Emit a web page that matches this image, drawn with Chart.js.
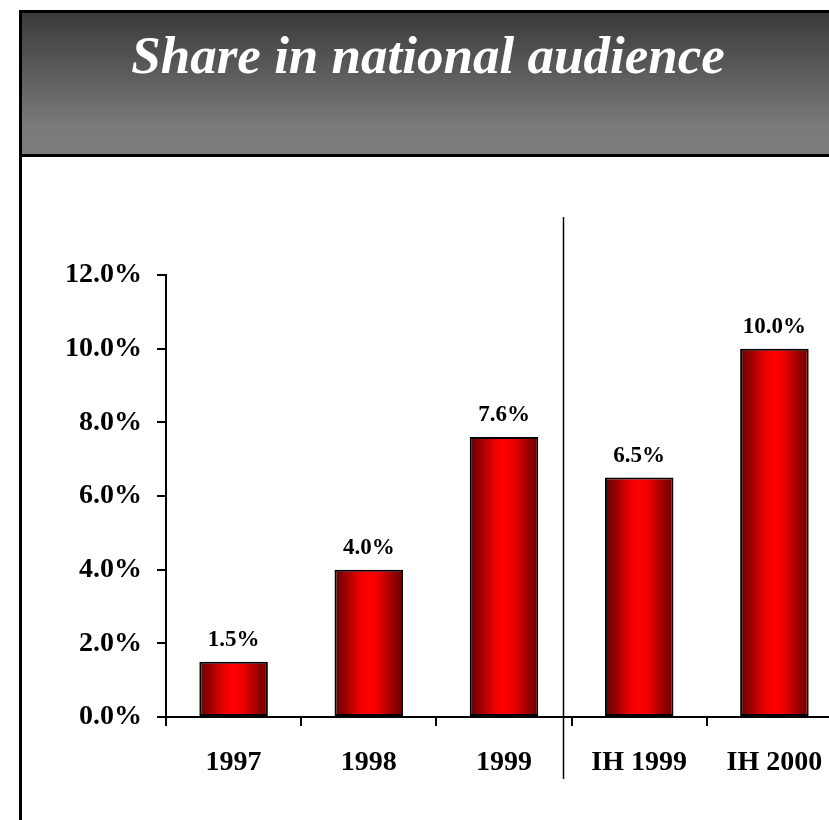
<!DOCTYPE html>
<html>
<head>
<meta charset="utf-8">
<script src="https://cdn.jsdelivr.net/npm/chart.js@4/dist/chart.umd.min.js"></script>
<style>
  html, body { margin: 0; padding: 0; width: 829px; height: 820px; overflow: hidden; background: #fff; }
  #frameTop { position: absolute; left: 19px; top: 10px; width: 830px; height: 141px;
    border-top: 3px solid #000; border-bottom: 3px solid #000;
    background: linear-gradient(#3b3b3b 0%, #5a5a5a 40%, #7a7a7a 80%, #7b7b7b 100%); }
  #frameLeft { position: absolute; left: 19px; top: 10px; width: 3px; height: 820px; background: #000; }
  #title { position: absolute; left: 0; top: 29px; width: 856px; text-align: center;
    font: italic bold 53px "Liberation Serif", "Times New Roman", serif; line-height: 53px; color: #fff; }
  #chart { position: absolute; left: 0; top: 0; }
</style>
</head>
<body>
<div id="frameTop"></div>
<div id="frameLeft"></div>
<div id="title">Share in national audience</div>
<canvas id="chart" width="860" height="820"></canvas>
<script>
// Audience share by period
const categories = ['1997', '1998', '1999', 'IH 1999', 'IH 2000'];
const shareValues = [1.5, 4.0, 7.6, 6.5, 10.0];
const yTickValues = [0, 2, 4, 6, 8, 10, 12];
// separator between full years and half-year figures (category units)
const dividerAt = 2.44;

const serif = '"Liberation Serif", "Times New Roman", serif';

function barGradient(ctx) {
  const chart = ctx.chart;
  const xs = chart.scales.x;
  if (!chart.chartArea || !xs) return '#e00000';
  const cx = xs.getPixelForValue(ctx.dataIndex);
  const half = xs.width / categories.length * 0.507 / 2;
  const g = chart.ctx.createLinearGradient(cx - half, 0, cx + half, 0);
  g.addColorStop(0, '#6a0000');
  g.addColorStop(0.12, '#8e0000');
  g.addColorStop(0.35, '#e80000');
  g.addColorStop(0.48, '#ff0000');
  g.addColorStop(0.62, '#f00000');
  g.addColorStop(0.85, '#9a0000');
  g.addColorStop(1, '#660000');
  return g;
}

const valueLabels = {
  id: 'valueLabels',
  afterDatasetsDraw(chart) {
    const ctx = chart.ctx;
    const meta = chart.getDatasetMeta(0);
    ctx.save();
    ctx.font = 'bold 23px ' + serif;
    ctx.fillStyle = '#000';
    ctx.textAlign = 'center';
    ctx.textBaseline = 'alphabetic';
    meta.data.forEach((bar, i) => {
      ctx.fillText(shareValues[i].toFixed(1) + '%', bar.x, bar.y - 16);
    });
    ctx.restore();
  }
};

const divider = {
  id: 'divider',
  afterDraw(chart) {
    const ctx = chart.ctx;
    const x = Math.round(chart.scales.x.getPixelForValue(dividerAt)) + 0.5;
    ctx.save();
    ctx.strokeStyle = '#000';
    ctx.lineWidth = 1.5;
    ctx.beginPath();
    ctx.moveTo(x, chart.chartArea.top - 58);
    ctx.lineTo(x, chart.chartArea.bottom + 62);
    ctx.stroke();
    ctx.restore();
  }
};

new Chart(document.getElementById('chart'), {
  type: 'bar',
  data: {
    labels: categories,
    datasets: [{
      data: shareValues,
      backgroundColor: barGradient,
      borderColor: '#000',
      borderWidth: 2,
      borderSkipped: false,
      categoryPercentage: 1,
      barPercentage: 0.507
    }]
  },
  options: {
    responsive: false,
    animation: false,
    devicePixelRatio: 1,
    layout: { padding: { top: 275, left: 0, right: 18, bottom: 0 } },
    plugins: { legend: { display: false }, tooltip: { enabled: false }, title: { display: false } },
    scales: {
      x: {
        grid: { display: true, drawOnChartArea: false, drawTicks: true, tickLength: 9, color: '#000', lineWidth: 2, offset: true },
        border: { display: true, color: '#000', width: 2 },
        ticks: { color: '#000', font: { family: serif, size: 28, weight: 'bold' }, padding: 20, maxRotation: 0, autoSkip: false },
        afterFit(s) { s.height = 103; }
      },
      y: {
        min: 0, max: 12,
        afterBuildTicks(s) { s.ticks = yTickValues.map(v => ({ value: v })); },
        grid: { display: true, drawOnChartArea: false, drawTicks: true, tickLength: 9, color: '#000', lineWidth: 2 },
        border: { display: true, color: '#000', width: 2 },
        ticks: { color: '#000', font: { family: serif, size: 28, weight: 'bold' }, padding: 15,
          callback: v => v.toFixed(1) + '%' },
        afterFit(s) { s.width = 166; }
      }
    }
  },
  plugins: [valueLabels, divider]
});
</script>
</body>
</html>
